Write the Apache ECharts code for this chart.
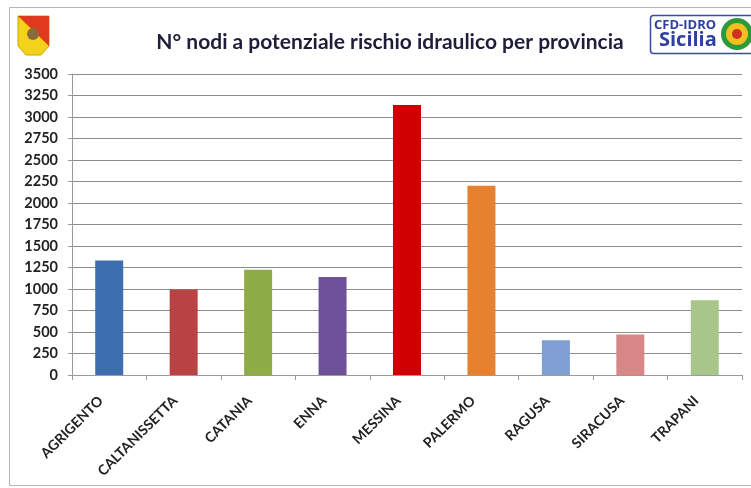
<!DOCTYPE html>
<html>
<head>
<meta charset="utf-8">
<script src="https://cdn.jsdelivr.net/npm/echarts@6/dist/echarts.min.js"></script>
<style>
html,body{margin:0;padding:0;background:#fff;}
#chart{width:751px;height:488px;}
</style>
</head>
<body>
<div id="chart"></div>
<script>
const titleText = 'N° nodi a potenziale rischio idraulico per provincia';
const categories = ['AGRIGENTO','CALTANISSETTA','CATANIA','ENNA','MESSINA','PALERMO','RAGUSA','SIRACUSA','TRAPANI'];
const values = [1330, 995, 1225, 1140, 3140, 2200, 405, 470, 870];
const barColors = ['#3d6fb0','#b94242','#8eac47','#6e5198','#d10000','#e5812f','#7f9fd3','#d88686','#a8c58b'];
const yMin = 0, yMax = 3500, yStep = 250;

const chart = echarts.init(document.getElementById('chart'), null, {renderer:'canvas'});
chart.setOption({
  animation:false,
  backgroundColor:'#ffffff',
  title:{
    text:titleText, left:385, top:27, textAlign:'center',
    textStyle:{fontFamily:'Lato', fontWeight:'bold', fontSize:21, color:'#1e1e3a'}
  },
  grid:{left:72, right:9, top:74, bottom:113, containLabel:false},
  xAxis:{
    type:'category', data:categories,
    axisLine:{lineStyle:{color:'#9a9a9a', width:1}},
    axisTick:{show:true, alignWithLabel:false, length:5, lineStyle:{color:'#9a9a9a'}},
    axisLabel:{rotate:45, interval:0, margin:15, padding:[0,12,0,0], fontFamily:'Lato', fontWeight:'bold', fontSize:14, color:'#222'}
  },
  yAxis:{
    type:'value', min:yMin, max:yMax, interval:yStep,
    axisLine:{show:true, lineStyle:{color:'#9a9a9a'}},
    axisTick:{show:true, length:4, lineStyle:{color:'#9a9a9a'}},
    axisLabel:{margin:14, fontFamily:'Lato', fontWeight:'bold', fontSize:14.5, color:'#222', formatter:(v)=>String(v)},
    splitLine:{lineStyle:{color:'#8c8c8c', width:1}}
  },
  series:[{
    type:'bar',
    data:values.map((v,i)=>({value:v, itemStyle:{color:barColors[i]}})),
    barWidth:28
  }],
  graphic:[
    {type:'rect', shape:{x:9.5, y:7.5, width:760, height:478}, style:{fill:'none', stroke:'#b5b5b5', lineWidth:1}, z:-1},
    {type:'polygon', shape:{points:[[18,16],[49,16],[49,46],[41,55],[26,55],[18,46]]}, style:{fill:'#f2d31a', stroke:'#c9a600', lineWidth:1}},
    {type:'polygon', shape:{points:[[18,16],[49,16],[49,46]]}, style:{fill:'#e03a1e'}},
    {type:'circle', shape:{cx:33, cy:34, r:6}, style:{fill:'#8a6a3a'}},
    {type:'rect', shape:{x:650.5, y:15.5, width:110, height:38, r:3}, style:{fill:'#ffffff', stroke:'#3a4a9c', lineWidth:1.5}},
    {type:'text', style:{text:'CFD-IDRO', x:654, y:19, fill:'#2f3f9f', font:'bold 13px "Open Sans"'}},
    {type:'text', style:{text:'Sicilia', x:659, y:30, fill:'#2f3f9f', font:'bold 20px "Open Sans"'}},
    {type:'circle', shape:{cx:737, cy:34, r:16}, style:{fill:'#2b9a3a'}},
    {type:'circle', shape:{cx:737, cy:34, r:11}, style:{fill:'#f0c020'}},
    {type:'circle', shape:{cx:737, cy:34, r:5}, style:{fill:'#d03020'}}
  ]
});
</script>
</body>
</html>
